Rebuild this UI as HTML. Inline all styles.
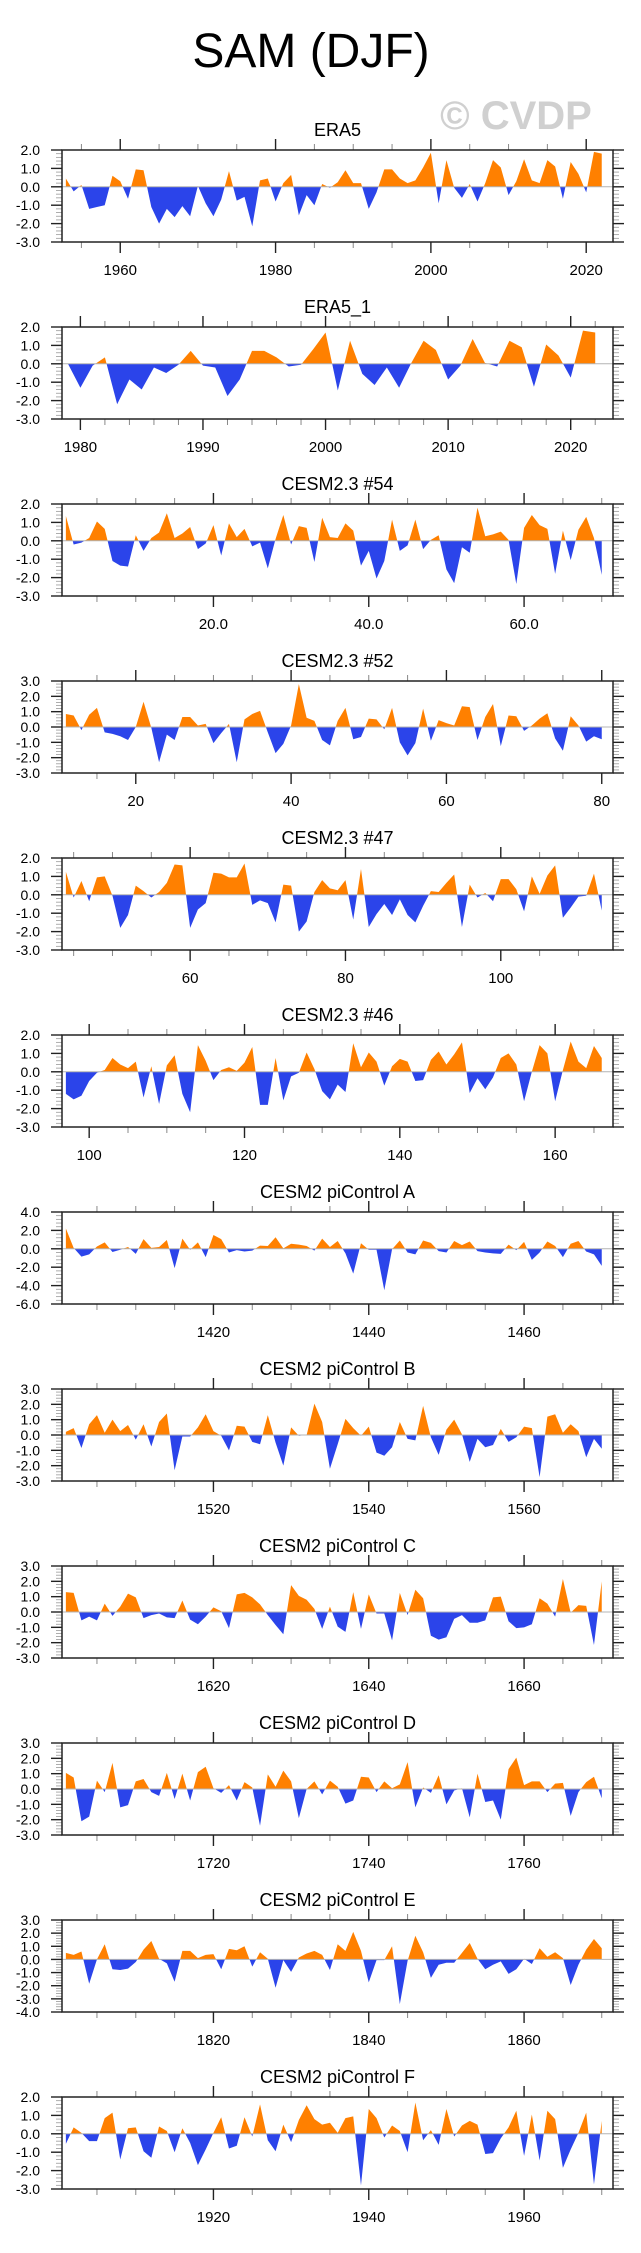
<!DOCTYPE html>
<html><head><meta charset="utf-8"><title>SAM (DJF)</title>
<style>
html,body{margin:0;padding:0;background:#fff;}
svg{display:block;font-family:"Liberation Sans",Arial,sans-serif;}
</style></head>
<body>
<svg id="chart" xmlns="http://www.w3.org/2000/svg" width="641" height="2253" viewBox="0 0 641 2253">
<rect x="0" y="0" width="641" height="2253" fill="#fff"/>
<text x="311" y="67" font-size="48" text-anchor="middle" fill="#000">SAM (DJF)</text>
<text x="516" y="129" font-size="40" font-weight="bold" text-anchor="middle" fill="#d0d0d0">© CVDP</text>
<g id="panels"></g>
</svg>
<script>
const panelTitles = ["ERA5","ERA5_1","CESM2.3 #54","CESM2.3 #52","CESM2.3 #47","CESM2.3 #46","CESM2 piControl A","CESM2 piControl B","CESM2 piControl C","CESM2 piControl D","CESM2 piControl E","CESM2 piControl F"];
const panelStarts = [1953,1979,1,11,44,97,1401,1501,1601,1701,1801,1901];
const yMins = [-3,-3,-3,-3,-3,-3,-6,-3,-3,-3,-4,-3];
const yMaxs = [2,2,2,3,2,2,4,3,3,3,3,2];
const yMajorSteps = [1,1,1,1,1,1,2,1,1,1,1,1];
const xMajorSteps = [20,10,20,20,20,20,20,20,20,20,20,20];
const xMinorSteps = [5,2,5,5,5,5,5,5,5,5,5,5];
const xLabelDecimals = [0,0,1,0,0,0,0,0,0,0,0,0];

const era5Values = [0.45,-0.25,0.1,-1.2,-1.1,-1.0,0.6,0.3,-0.65,0.95,0.9,-1.1,-2.0,-1.2,-1.65,-1.05,-1.6,0.05,-0.9,-1.6,-0.7,0.85,-0.75,-0.55,-2.15,0.35,0.45,-0.8,0.2,0.65,-1.55,-0.45,-1.0,0.15,-0.05,0.25,0.9,0.2,0.2,-1.2,-0.3,0.95,0.95,0.45,0.2,0.35,1.05,1.85,-0.9,1.45,-0.05,-0.6,0.15,-0.8,0.2,1.45,1.05,-0.45,0.3,1.5,0.35,0.2,1.45,1.1,-0.65,1.35,0.7,-0.3,1.9,1.8];
const era5bValues = [-0.02,-1.3,-0.1,0.35,-2.2,-0.85,-1.4,-0.2,-0.5,-0.05,0.7,-0.1,-0.2,-1.75,-0.85,0.7,0.7,0.35,-0.15,-0.05,0.8,1.7,-1.45,1.25,-0.55,-1.15,-0.2,-1.3,0.05,1.25,0.75,-0.85,-0.1,1.35,0.05,-0.15,1.25,0.9,-1.25,1.05,0.45,-0.75,1.8,1.7];
const m54Values = [1.35,-0.2,-0.1,0.15,1.05,0.65,-1.1,-1.35,-1.4,0.3,-0.55,0.15,0.45,1.5,0.15,0.4,0.75,-0.45,-0.15,0.85,-0.8,0.95,0.2,0.65,-0.3,-0.1,-1.5,0.1,1.4,-0.2,0.8,0.7,-1.15,1.25,0.2,0.15,0.95,0.55,-1.35,-0.55,-2.05,-1.1,1.15,-0.55,-0.25,1.15,-0.45,0.05,0.3,-1.55,-2.3,-0.35,-0.65,1.8,0.25,0.35,0.5,0.05,-2.35,0.7,1.4,0.85,0.65,-1.8,0.55,-1.05,0.6,1.3,0.15,-1.85];
const m52Values = [0.85,0.75,-0.2,0.8,1.25,-0.35,-0.45,-0.6,-0.85,0.0,1.65,-0.05,-2.3,-0.5,-0.85,0.65,0.65,0.1,0.2,-1.05,-0.4,0.2,-2.3,0.5,0.85,1.05,-0.35,-1.7,-1.1,0.1,2.8,0.6,0.4,-0.85,-1.2,0.4,1.25,-0.8,-0.65,0.55,0.5,-0.15,1.25,-1.0,-1.85,-1.05,1.2,-0.9,0.45,0.25,0.1,1.35,1.3,-0.85,0.65,1.5,-1.25,0.75,0.7,-0.25,0.1,0.55,0.9,-0.75,-1.55,0.7,0.1,-0.95,-0.6,-0.8];
const m47Values = [1.25,-0.15,0.75,-0.35,0.95,1.0,-0.05,-1.8,-1.1,0.5,0.2,-0.15,0.15,0.65,1.65,1.6,-1.8,-0.8,-0.45,1.2,1.15,0.95,0.95,1.7,-0.55,-0.3,-0.45,-1.5,0.55,0.5,-2.0,-1.45,0.15,0.8,0.35,0.25,0.8,-1.35,1.4,-1.75,-1.05,-0.5,-1.1,-0.25,-1.1,-1.5,-0.6,0.2,0.15,0.65,1.1,-1.75,0.55,-0.15,0.1,-0.35,0.85,0.85,0.3,-0.9,1.0,0.05,1.05,1.6,-1.25,-0.7,-0.1,-0.05,1.15,-0.85];
const m46Values = [-1.2,-1.5,-1.3,-0.5,-0.05,0.1,0.75,0.4,0.2,0.55,-1.4,0.3,-1.75,0.35,0.9,-1.2,-2.2,1.45,0.6,-0.45,0.1,0.25,0.05,0.5,1.35,-1.8,-1.8,0.75,-1.55,-0.25,-0.05,1.05,0.15,-1.05,-1.5,-0.7,-1.1,1.55,0.25,1.05,0.55,-0.75,0.3,0.7,0.55,-0.5,-0.45,0.65,1.1,0.4,0.95,1.6,-1.15,-0.35,-0.95,-0.3,0.75,1.0,0.4,-1.6,0.0,1.45,1.0,-1.6,0.1,1.65,0.55,0.2,1.4,0.75];
const piAValues = [2.2,0.1,-0.85,-0.6,0.25,0.7,-0.35,-0.1,0.2,-0.55,1.05,0.1,0.2,0.95,-2.1,1.1,-0.1,0.7,-0.9,1.5,1.05,-0.4,-0.15,-0.3,-0.2,0.35,0.3,1.25,0.05,0.55,0.45,0.3,-0.2,1.1,0.2,0.85,-0.5,-2.7,0.6,-0.1,-0.1,-4.5,-0.05,0.9,-0.4,-0.6,0.9,0.65,-0.25,-0.4,0.85,0.4,0.8,-0.25,-0.4,-0.5,-0.55,0.45,-0.15,0.75,-1.2,-0.4,0.8,0.3,-0.9,0.55,0.85,-0.3,-0.6,-1.85];
const piBValues = [0.2,0.45,-0.85,0.7,1.3,0.15,1.0,0.25,0.65,-0.3,0.7,-0.75,0.85,1.4,-2.3,-0.1,-0.1,0.5,1.35,0.25,-0.05,-1.0,0.6,0.55,-0.45,-0.6,1.3,-0.5,-2.0,0.5,-0.05,0.0,2.05,0.85,-2.2,-0.6,1.05,0.45,-0.05,0.55,-1.15,-1.35,-0.8,0.85,-0.25,-0.35,1.9,-0.15,-1.3,0.35,1.0,0.05,-1.75,-0.25,-0.8,-0.65,0.4,-0.45,-0.15,0.55,0.45,-2.75,1.2,1.35,0.15,0.7,0.25,-1.45,-0.25,-0.9];
const piCValues = [1.3,1.25,-0.55,-0.3,-0.55,0.55,-0.25,0.35,1.2,0.95,-0.4,-0.2,-0.1,-0.35,-0.4,0.75,-0.5,-0.8,-0.3,0.3,0.05,-1.05,1.15,1.25,0.95,0.5,-0.2,-0.85,-1.45,1.75,1.05,0.8,0.2,-1.1,0.35,-0.95,-1.3,1.3,-1.1,1.15,-0.1,-0.1,-1.85,1.25,-0.2,1.45,0.9,-1.55,-1.8,-1.65,-0.45,-0.2,-0.7,-0.7,-0.55,0.95,1.0,-0.6,-1.05,-1.0,-0.8,0.9,0.55,-0.3,2.15,-0.05,0.45,0.4,-2.15,2.0];
const piDValues = [1.05,0.75,-2.1,-1.8,0.55,-0.2,1.7,-1.2,-1.05,0.5,0.65,-0.2,-0.45,1.05,-0.65,1.0,-0.75,1.1,1.45,0.05,-0.25,0.25,-0.75,0.45,0.1,-2.4,0.95,0.15,1.2,0.5,-1.9,0.0,0.5,-0.35,0.55,0.15,-0.95,-0.75,0.8,0.75,-0.2,0.5,0.05,0.3,1.75,-1.2,0.1,-0.25,0.9,-1.0,-0.1,0.05,-1.85,1.0,-0.85,-0.75,-2.0,1.3,2.05,0.25,0.5,0.5,-0.2,0.35,0.4,-1.75,-0.2,0.45,0.8,-0.6];
const piEValues = [0.5,0.35,0.6,-1.85,0.0,1.15,-0.75,-0.8,-0.7,-0.2,0.75,1.4,0.05,-0.3,-1.7,0.65,0.65,0.1,0.35,0.4,-0.75,0.8,0.7,1.0,-0.55,0.55,0.05,-2.15,-0.05,-0.95,0.15,0.45,0.65,0.35,-0.8,1.15,0.65,2.1,0.65,-1.75,-0.05,-0.05,1.0,-3.4,-0.1,1.8,0.55,-1.4,-0.4,-0.25,-0.25,0.5,1.25,0.05,-0.75,-0.4,-0.15,-1.1,-0.75,0.05,-0.35,0.85,0.2,0.55,0.1,-1.95,-0.4,0.75,1.55,0.85];
const piFValues = [-0.55,0.35,0.05,-0.4,-0.4,0.85,1.15,-1.4,0.3,0.35,-0.95,-1.3,0.4,0.15,-1.0,0.3,-0.5,-1.7,-0.85,0.05,0.9,-0.8,-0.65,0.9,-0.15,1.6,-0.35,-0.95,0.5,-0.45,0.75,1.55,0.8,0.5,0.6,0.05,0.85,0.95,-2.8,1.35,0.85,-0.2,0.45,0.15,-1.0,1.7,-0.35,0.2,-0.6,1.35,-0.15,0.45,0.7,0.5,-1.1,-1.05,-0.25,0.35,1.25,-1.2,1.05,-1.45,1.25,0.8,-1.85,-0.85,0.05,1.15,-2.75,0.7];

const panelValues = [era5Values,era5bValues,m54Values,m52Values,m47Values,m46Values,piAValues,piBValues,piCValues,piDValues,piEValues,piFValues];

const NS = "http://www.w3.org/2000/svg";
const BOX_L = 62, BOX_R = 613, BOX_H = 92, TOP0 = 150, PITCH = 177;
const ORANGE = "#ff8000", BLUE = "#2b44ea";
const root = document.getElementById("panels");

function mk(tag, attrs, parent) {
  const e = document.createElementNS(NS, tag);
  for (const k in attrs) e.setAttribute(k, attrs[k]);
  (parent || root).appendChild(e);
  return e;
}

panelValues.forEach((vals, p) => {
  const top = TOP0 + PITCH * p, bot = top + BOX_H;
  const start = panelStarts[p], end = start + vals.length - 1;
  const x0 = start - 0.5, x1 = end + 1.45;
  const xs = x => BOX_L + (x - x0) / (x1 - x0) * (BOX_R - BOX_L);
  const ys = v => bot - (v - yMins[p]) / (yMaxs[p] - yMins[p]) * BOX_H;
  const g = mk("g", {});
  
  

  const t = mk("text", {x: (BOX_L + BOX_R) / 2, y: top - 14, "font-size": 18, "text-anchor": "middle", fill: "#000"}, g);
  t.textContent = panelTitles[p];
  
  

  // clip paths
  const defs = mk("defs", {}, g);
  const cpA = mk("clipPath", {id: "ca" + p}, defs);
  mk("rect", {x: BOX_L, y: top, width: BOX_R - BOX_L, height: ys(0) - top}, cpA);
  const cpB = mk("clipPath", {id: "cb" + p}, defs);
  mk("rect", {x: BOX_L, y: ys(0), width: BOX_R - BOX_L, height: bot - ys(0)}, cpB);

  let d = "M" + xs(start).toFixed(2) + "," + ys(0).toFixed(2);
  vals.forEach((v, i) => { d += " L" + xs(start + i).toFixed(2) + "," + ys(v).toFixed(2); });
  d += " L" + xs(end).toFixed(2) + "," + ys(0).toFixed(2) + " Z";
  const pos = mk("path", {d: d, fill: ORANGE, "clip-path": "url(#ca" + p + ")"}, g);
  
  
  const neg = mk("path", {d: d, fill: BLUE, "clip-path": "url(#cb" + p + ")"}, g);
  
  

  const zl = mk("line", {x1: BOX_L, x2: BOX_R, y1: ys(0), y2: ys(0), stroke: "#b4b4b4", "stroke-width": 1}, g);
  
  

  // x ticks
  const mn = xMinorSteps[p], mj = xMajorSteps[p];
  for (let x = Math.ceil(x0 / mn) * mn; x <= x1; x += mn) {
    const major = x % mj === 0;
    const L = major ? 11 : 6, X = xs(x);
    mk("line", {x1: X, x2: X, y1: top, y2: top - L, stroke: major ? "#222" : "#888", "stroke-width": major ? 1.4 : 1}, g);
    mk("line", {x1: X, x2: X, y1: bot, y2: bot + L, stroke: major ? "#222" : "#888", "stroke-width": major ? 1.4 : 1}, g);
    if (major) {
      const lb = mk("text", {x: X, y: bot + 33, "font-size": 15, "text-anchor": "middle", fill: "#000"}, g);
      lb.textContent = x.toFixed(xLabelDecimals[p]);
      
      
    }
  }
  // y ticks
  const ystep = yMajorSteps[p], ymn = ystep / 5;
  for (let k = 0; k <= Math.round((yMaxs[p] - yMins[p]) / ymn); k++) {
    const v = yMins[p] + k * ymn, Y = ys(v);
    const major = k % 5 === 0;
    const L = major ? 11 : 6;
    mk("line", {x1: BOX_L, x2: BOX_L - L, y1: Y, y2: Y, stroke: major ? "#222" : "#999", "stroke-width": major ? 1.4 : 0.8}, g);
    mk("line", {x1: BOX_R, x2: BOX_R + L, y1: Y, y2: Y, stroke: major ? "#222" : "#999", "stroke-width": major ? 1.4 : 0.8}, g);
    if (major) {
      const lb = mk("text", {x: 40, y: Y + 5, "font-size": 14, "text-anchor": "end", fill: "#000"}, g);
      lb.textContent = v.toFixed(1);
      
      
    }
  }
  const box = mk("rect", {x: BOX_L, y: top, width: BOX_R - BOX_L, height: BOX_H, fill: "none", stroke: "#222", "stroke-width": 1.5}, g);
  
  
});
</script>
</body></html>
